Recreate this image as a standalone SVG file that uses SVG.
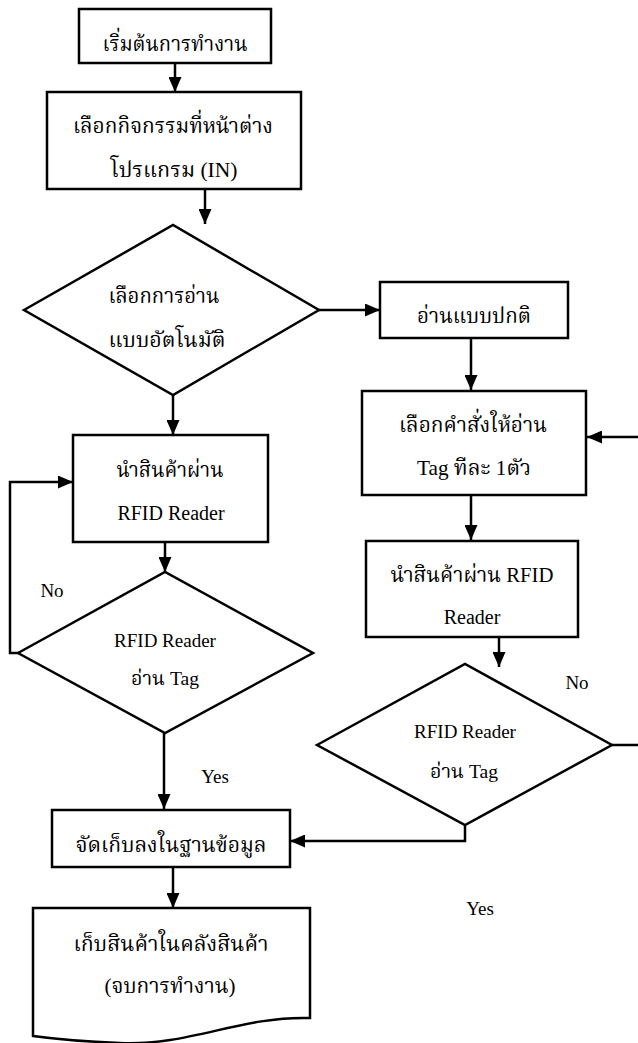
<svg xmlns="http://www.w3.org/2000/svg" width="638" height="1043" viewBox="0 0 638 1043">
<style>
.n{fill:#fff;stroke:#000;stroke-width:2.5}
.c{fill:none;stroke:#000;stroke-width:2.5}
text{font-family:'Liberation Serif','Times New Roman','DejaVu Serif','Noto Serif Thai','Noto Sans Thai',serif;font-size:20px;fill:#000;text-anchor:middle}
.t{font-size:22px}
.s{font-size:19px}
.l{font-family:'Liberation Serif','DejaVu Serif',serif}
</style>
<defs>
<marker id="a" viewBox="0 0 15 13" refX="15" refY="6.5" markerWidth="15" markerHeight="13" markerUnits="userSpaceOnUse" orient="auto"><path d="M0,0L15,6.5L0,13z" fill="#000"/></marker>
</defs>
<rect width="638" height="1043" fill="#fff"/>
<g id="connectors">
<path class="c" d="M175,63V92" marker-end="url(#a)"/>
<path class="c" d="M205,189V224" marker-end="url(#a)"/>
<path class="c" d="M319,310H380" marker-end="url(#a)"/>
<path class="c" d="M471,338V390" marker-end="url(#a)"/>
<path class="c" d="M173,395V435" marker-end="url(#a)"/>
<path class="c" d="M20,653H10V482H73" marker-end="url(#a)"/>
<path class="c" d="M165,542V572" marker-end="url(#a)"/>
<path class="c" d="M164,733V809" marker-end="url(#a)"/>
<path class="c" d="M471,495V540" marker-end="url(#a)"/>
<path class="c" d="M499,637V667" marker-end="url(#a)"/>
<path class="c" d="M612,745H645V437H587" marker-end="url(#a)"/>
<path class="c" d="M465,825V841H290" marker-end="url(#a)"/>
<path class="c" d="M173,867V908" marker-end="url(#a)"/>
</g>
<g id="start">
<rect class="n" x="79" y="9" width="192" height="54"/>
<text class="t" x="175" y="51" textLength="145" lengthAdjust="spacingAndGlyphs">เริ่มต้นการทำงาน</text>
</g>
<g id="select-activity">
<rect class="n" x="47" y="92" width="254" height="97"/>
<text class="t" x="173" y="133" textLength="200" lengthAdjust="spacingAndGlyphs">เลือกกิจกรรมที่หน้าต่าง</text>
<text class="t" x="174" y="177" textLength="127" lengthAdjust="spacingAndGlyphs">โปรแกรม (IN)</text>
</g>
<g id="auto-read">
<polygon class="n" points="24,310 173,225 319,310 173,395"/>
<text class="t" x="164" y="303" textLength="111" lengthAdjust="spacingAndGlyphs">เลือกการอ่าน</text>
<text class="t" x="167" y="347" textLength="117" lengthAdjust="spacingAndGlyphs">แบบอัตโนมัติ</text>
</g>
<g id="normal-read">
<rect class="n" x="380" y="282" width="188" height="56"/>
<text class="t" x="474" y="323" textLength="114" lengthAdjust="spacingAndGlyphs">อ่านแบบปกติ</text>
</g>
<g id="select-command">
<rect class="n" x="362" y="391" width="224" height="104"/>
<text class="t" x="473" y="432" textLength="148" lengthAdjust="spacingAndGlyphs">เลือกคำสั่งให้อ่าน</text>
<text class="t" x="474" y="475" textLength="114" lengthAdjust="spacingAndGlyphs">Tag ทีละ 1ตัว</text>
</g>
<g id="pass-reader-left">
<rect class="n" x="73" y="435" width="195" height="107"/>
<text class="t" x="170" y="477" textLength="107" lengthAdjust="spacingAndGlyphs">นำสินค้าผ่าน</text>
<text class="l" x="171" y="520">RFID Reader</text>
</g>
<g id="check-left">
<polygon class="n" points="18,653 165,572 313,653 165,733"/>
<text class="s l" x="165" y="647">RFID Reader</text>
<text class="s" x="165" y="685" textLength="68" lengthAdjust="spacingAndGlyphs">อ่าน Tag</text>
</g>
<g id="pass-reader-right">
<rect class="n" x="366" y="541" width="212" height="96"/>
<text class="t" x="472" y="582" textLength="163" lengthAdjust="spacingAndGlyphs">นำสินค้าผ่าน RFID</text>
<text class="l" x="472" y="624">Reader</text>
</g>
<g id="check-right">
<polygon class="n" points="317,745 465,664 612,745 465,825"/>
<text class="s l" x="465" y="738">RFID Reader</text>
<text class="s" x="464" y="778" textLength="68" lengthAdjust="spacingAndGlyphs">อ่าน Tag</text>
</g>
<g id="store-db">
<rect class="n" x="52" y="810" width="238" height="57"/>
<text class="t" x="171" y="852" textLength="191" lengthAdjust="spacingAndGlyphs">จัดเก็บลงในฐานข้อมูล</text>
</g>
<g id="end">
<path class="n" d="M33,908H310V1018C240,1016 190,1046 120,1043Q70,1041 33,1036Z"/>
<text class="t" x="171" y="951" textLength="195" lengthAdjust="spacingAndGlyphs">เก็บสินค้าในคลังสินค้า</text>
<text class="t" x="170" y="993" textLength="131" lengthAdjust="spacingAndGlyphs">(จบการทำงาน)</text>
</g>
<g id="labels">
<text class="s l" x="52" y="597">No</text>
<text class="s l" x="215" y="783">Yes</text>
<text class="s l" x="577" y="689">No</text>
<text class="s l" x="480" y="915">Yes</text>
</g>
</svg>
